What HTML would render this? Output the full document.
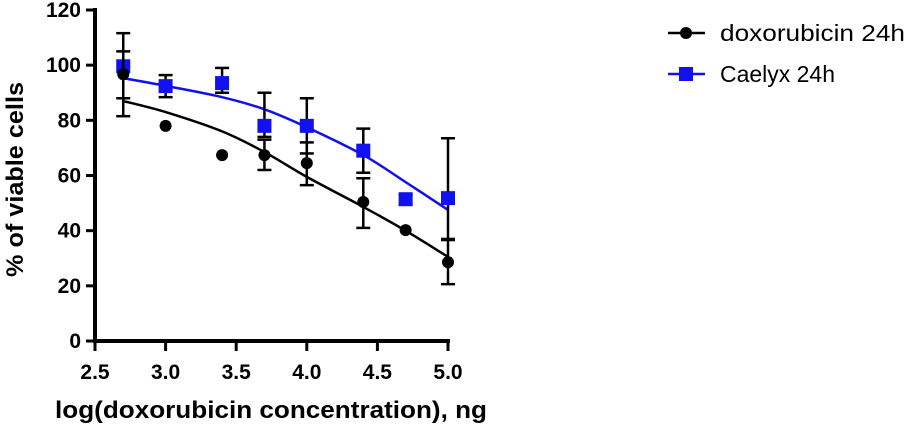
<!DOCTYPE html>
<html><head><meta charset="utf-8"><style>
html,body{margin:0;padding:0;background:#fff;width:906px;height:426px;overflow:hidden}
svg{display:block}
text{font-family:"Liberation Sans",Arial,sans-serif}
</style></head><body>
<svg id="chart" width="906" height="426" viewBox="0 0 906 426"></svg>
<script>
const xValues=[2.7,3.0,3.4,3.7,4.0,4.4,4.7,5.0];
const doxValues=[96.7,78,67.4,67.4,64.5,50.4,40.2,28.6];
const doxErrHi=[105,null,null,73,72,59,null,36.6];
const doxErrLo=[81.5,null,null,62,56.5,41,null,20.6];
const caelyxValues=[99.6,92.4,93.5,78,78,69,51.4,51.8];
const caelyxErrHi=[111.6,96.4,99,90,88,77,53,73.5];
const caelyxErrLo=[88,88.4,90,74,68,61,49.5,37];
const doxFit=[87,83,76,68.5,59.5,48.6,40,30.5];
const caelyxFit=[95.3,92.5,88.4,84,77.5,67.4,57.6,47.5];
const xTicks=["2.5","3.0","3.5","4.0","4.5","5.0"];
const yTicks=["0","20","40","60","80","100","120"];

const NS="http://www.w3.org/2000/svg";
const svg=document.getElementById('chart');
const x0=95,x1=448,y0=341,y1=10;
const xs=v=>x0+(v-2.5)/2.5*(x1-x0);
const ys=v=>y0-v/120*(y0-y1);
function mk(tag,attrs,parent){const e=document.createElementNS(NS,tag);for(const k in attrs)e.setAttribute(k,attrs[k]);(parent||svg).appendChild(e);return e;}
function smooth(xsArr,ysArr){const p=xsArr.map((x,i)=>[xs(x),ys(ysArr[i])]);let d=`M${p[0][0]},${p[0][1]}`;for(let i=0;i<p.length-1;i++){const a=p[Math.max(0,i-1)],b=p[i],c=p[i+1],e=p[Math.min(p.length-1,i+2)];d+=` C${b[0]+(c[0]-a[0])/6},${b[1]+(c[1]-a[1])/6} ${c[0]-(e[0]-b[0])/6},${c[1]-(e[1]-b[1])/6} ${c[0]},${c[1]}`;}return d;}

// axes
let g=mk('g',{});

mk('line',{x1:x0,y1:y1-2,x2:x0,y2:y0+2,stroke:'#000','stroke-width':4},g);
yTicks.forEach(t=>{const y=ys(+t);mk('line',{x1:x0-9,y1:y,x2:x0,y2:y,stroke:'#000','stroke-width':3},g);
 const tx=mk('text',{x:x0-14,y:y+7,'text-anchor':'end','font-size':21,'font-weight':'bold'},g);tx.textContent=t;
 });
g=mk('g',{});

mk('line',{x1:x0-2,y1:y0,x2:x1+2,y2:y0,stroke:'#000','stroke-width':4},g);
xTicks.forEach(t=>{const x=xs(+t);mk('line',{x1:x,y1:y0,x2:x,y2:y0+10,stroke:'#000','stroke-width':3},g);
 const tx=mk('text',{x:x,y:379,'text-anchor':'middle','font-size':21,'font-weight':'bold'},g);tx.textContent=t;
 });
let t=mk('text',{x:55,y:418,'font-size':24,'font-weight':'bold',textLength:432,lengthAdjust:'spacingAndGlyphs'});t.textContent='log(doxorubicin concentration), ng';

t=mk('text',{x:0,y:0,'font-size':24,'font-weight':'bold',textLength:195,lengthAdjust:'spacingAndGlyphs',transform:'translate(23,277) rotate(-90)'});t.textContent='% of viable cells';


function series(vals,hi,lo,fit,color,shape,name){
 const sg=mk('g',{});
 
 const p=mk('path',{d:smooth(xValues,fit),fill:'none',stroke:color,'stroke-width':2.5},sg);
 
 xValues.forEach((xv,i)=>{const x=xs(xv);
  if(hi[i]!=null){const eb=mk('g',{},sg);
   
   mk('line',{x1:x,y1:ys(hi[i]),x2:x,y2:ys(lo[i]),stroke:'#000','stroke-width':2.5},eb);
   [hi[i],lo[i]].forEach(v=>mk('line',{x1:x-7,y1:ys(v),x2:x+7,y2:ys(v),stroke:'#000','stroke-width':2.5},eb));}
  let m;
  if(shape==='circle')m=mk('circle',{cx:x,cy:ys(vals[i]),r:6,fill:color},sg);
  else m=mk('rect',{x:x-7,y:ys(vals[i])-7,width:14,height:14,fill:color},sg);
  });
}
series(caelyxValues,caelyxErrHi,caelyxErrLo,caelyxFit,'#1010f0','square','caelyx');
series(doxValues,doxErrHi,doxErrLo,doxFit,'#000','circle','doxorubicin');

// legend
let lg=mk('g',{});

mk('line',{x1:668,y1:33,x2:705,y2:33,stroke:'#000','stroke-width':2.5},lg);
mk('circle',{cx:686,cy:33,r:6,fill:'#000'},lg);
t=mk('text',{x:720,y:41,'font-size':23,textLength:185,lengthAdjust:'spacingAndGlyphs'},lg);t.textContent='doxorubicin 24h';
lg=mk('g',{});

mk('line',{x1:668,y1:74,x2:705,y2:74,stroke:'#1010f0','stroke-width':2.5},lg);
mk('rect',{x:679,y:67,width:14,height:14,fill:'#1010f0'},lg);
t=mk('text',{x:720,y:82,'font-size':23,textLength:115,lengthAdjust:'spacingAndGlyphs'},lg);t.textContent='Caelyx 24h';
</script>
</body></html>
